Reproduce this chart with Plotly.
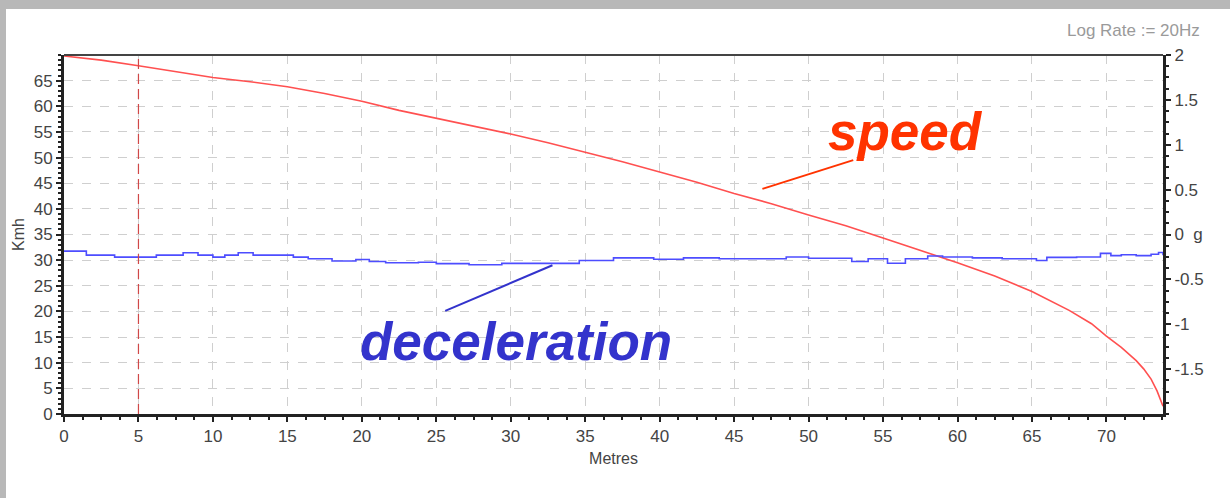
import plotly.graph_objects as go

# ---- data ----
speed_m = [0, 1, 2.5, 5, 7.5, 10, 12.5, 15, 17.5, 20, 22.5, 25, 27.5, 30, 32.5, 35,
           37.5, 40, 42.5, 45, 47.5, 50, 52.5, 55, 57.5, 60, 62.5, 65, 67.5, 69,
           70, 71, 72, 72.5, 73, 73.4, 73.8]
speed_kmh = [69.8, 69.5, 69.0, 67.9, 66.8, 65.6, 64.8, 63.8, 62.5, 61.0, 59.2, 57.7,
             56.2, 54.6, 52.9, 51.1, 49.2, 47.2, 45.2, 43.0, 41.0, 38.8, 36.7, 34.3,
             31.9, 29.5, 26.9, 23.9, 20.2, 17.6, 15.2, 13.0, 10.4, 8.8, 6.8, 4.5, 1.5]

decel_m = [0, 1.5, 3.4, 6.2, 8, 9, 10, 10.8, 11.7, 12.7, 15.4, 16.4, 18, 19.6, 20.5,
           21.6, 23.8, 25, 27.2, 29.4, 34.6, 36.9, 39.6, 41.6, 44, 47.4, 48.5, 50,
           52.9, 54, 55.3, 56.5, 58, 59, 61, 63, 65.3, 66, 68, 69.6, 70.3, 71, 72,
           73, 73.5, 73.8]
decel_g = [-0.185, -0.23, -0.252, -0.23, -0.204, -0.23, -0.252, -0.23, -0.204, -0.23,
           -0.252, -0.27, -0.296, -0.278, -0.30, -0.315, -0.31, -0.325, -0.337, -0.322,
           -0.289, -0.26, -0.275, -0.26, -0.27, -0.27, -0.25, -0.265, -0.30, -0.27,
           -0.32, -0.27, -0.24, -0.25, -0.26, -0.27, -0.29, -0.255, -0.25, -0.21,
           -0.235, -0.225, -0.235, -0.22, -0.20, -0.23]

x_ticks = list(range(0, 75, 5))
y_ticks = list(range(0, 70, 5))
y2_ticks = [2, 1.5, 1, 0.5, 0, -0.5, -1, -1.5]
y2_labels = ["2", "1.5", "1", "0.5", "0  g", "-0.5", "-1", "-1.5"]
marker_x = 5

FONT = "Liberation Sans, Arial, sans-serif"

fig = go.Figure()
fig.add_trace(go.Scatter(x=speed_m, y=speed_kmh, mode="lines",
                         line=dict(color="#ff5050", width=1.6), yaxis="y",
                         showlegend=False, hoverinfo="skip"))
fig.add_trace(go.Scatter(x=decel_m, y=decel_g, mode="lines",
                         line=dict(color="#4d4dff", width=1.6, shape="hv"), yaxis="y2",
                         showlegend=False, hoverinfo="skip"))

# paper coordinate helpers (plot area 64..1163 x, 55..414 y)
L, R, T, B = 64, 1163, 55, 414
def px(x): return (x - L) / (R - L)
def py(y): return (B - y) / (B - T)

shapes = [
    dict(type="rect", xref="paper", yref="paper", x0=px(6), x1=px(1240), y0=py(9), y1=py(510),
         fillcolor="white", line=dict(width=0), layer="below"),
    dict(type="line", xref="paper", yref="paper", x0=0, x1=1, y0=1, y1=1,
         line=dict(color="#444444", width=2)),
    dict(type="line", xref="x", yref="paper", x0=marker_x, x1=marker_x, y0=0, y1=1,
         line=dict(color="#d04848", width=1.2, dash="10px,5px")),
    dict(type="line", xref="x", yref="y", x0=46.9, y0=43.9, x1=53.0, y1=49.5,
         line=dict(color="#ff3300", width=2)),
    dict(type="line", xref="x", yref="y", x0=25.6, y0=20.1, x1=32.8, y1=29.0,
         line=dict(color="#3333cc", width=2)),
]

annotations = [
    dict(text="speed", xref="paper", yref="paper", x=px(826), y=py(131),
         xanchor="left", yanchor="middle", showarrow=False,
         font=dict(family=FONT, size=53, color="#ff3300", weight="bold", style="italic")),
    dict(text="deceleration", xref="paper", yref="paper", x=px(358), y=py(341),
         xanchor="left", yanchor="middle", showarrow=False,
         font=dict(family=FONT, size=53, color="#3333cc", weight="bold", style="italic")),
    dict(text="Log Rate := 20Hz", xref="paper", yref="paper", x=px(1202), y=py(31),
         xanchor="right", yanchor="middle", showarrow=False,
         font=dict(family=FONT, size=17, color="#9a9a9a")),
]

fig.update_layout(
    width=1230, height=498,
    margin=dict(l=L, r=1230 - R, t=T, b=498 - B, pad=0),
    paper_bgcolor="#b8b8b8",
    plot_bgcolor="white",
    font=dict(family=FONT, size=17, color="#444444"),
    shapes=shapes,
    annotations=annotations,
    xaxis=dict(range=[0, 73.8], tickvals=x_ticks, showgrid=True, gridcolor="#cfcfcf",
               griddash="dash", gridwidth=1, zeroline=False,
               showline=True, linecolor="#222222", linewidth=3,
               ticks="outside", ticklen=5, tickcolor="#222222", tickwidth=2,
               minor=dict(dtick=1.25, ticks="outside", ticklen=3, tickcolor="#222222", tickwidth=1.5),
               title=dict(text="Metres", font=dict(size=16, color="#444444"), standoff=8),
               tickfont=dict(size=17, color="#444444")),
    yaxis=dict(range=[0, 70], tickvals=y_ticks, showgrid=True, gridcolor="#cfcfcf",
               griddash="dash", gridwidth=1, zeroline=False,
               showline=True, linecolor="#222222", linewidth=3,
               ticks="outside", ticklen=5, tickcolor="#222222", tickwidth=2,
               minor=dict(dtick=1, ticks="outside", ticklen=3, tickcolor="#222222", tickwidth=1.5),
               title=dict(text="Kmh", font=dict(size=16, color="#444444"), standoff=6),
               tickfont=dict(size=17, color="#444444")),
    yaxis2=dict(range=[-2, 2], overlaying="y", side="right", tickvals=y2_ticks,
                ticktext=y2_labels, showgrid=False, zeroline=False,
                showline=True, linecolor="#222222", linewidth=3,
                ticks="outside", ticklen=5, tickcolor="#222222", tickwidth=2,
                minor=dict(dtick=0.125, ticks="outside", ticklen=3, tickcolor="#222222", tickwidth=1.5),
                tickfont=dict(size=17, color="#444444")),
)

fig.write_html("out.html")
